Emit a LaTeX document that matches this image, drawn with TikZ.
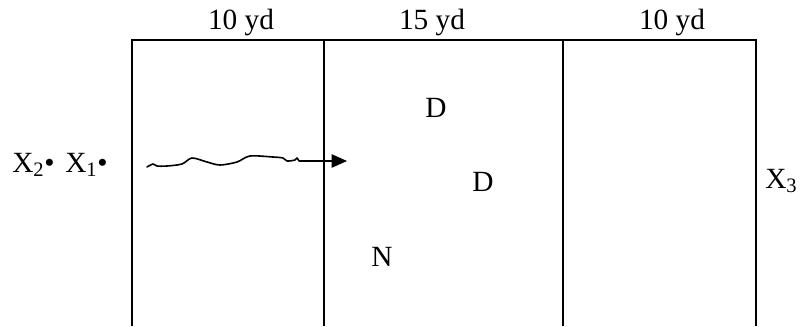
\documentclass[tikz,border=0pt]{standalone}
\usepackage{fontspec}
\setmainfont{Liberation Serif}
\usetikzlibrary{arrows.meta, positioning}

\begin{document}
\begin{tikzpicture}[
    x=0.75pt, y=-0.75pt,
    field/.style={draw, line width=1.2pt},
    lbl/.style={inner sep=0pt, font=\fontsize{22}{26}\selectfont},
    run/.style={draw, line width=1.2pt, line join=round, line cap=round},
    line/.style={draw, line width=1.1pt, -{Triangle[length=11.5pt, width=10pt]}}
]
\useasboundingbox (0,0) rectangle (800,326);

% field: three zones, open at the bottom
\coordinate (tl) at (132,40);
\coordinate (tr) at (756,40);
\path [field] (132,326) -- (tl) -- (tr) -- (756,326);
\path [field] (324,40) -- (324,326);
\path [field] (563,40) -- (563,326);

% widths
\node [lbl, anchor=base] (w1) at (241,29) {10 yd};
\node [lbl, anchor=base] (w2) at (432,29) {15 yd};
\node [lbl, anchor=base] (w3) at (672,29) {10 yd};

% players
\node [lbl, anchor=west] (x2) at (12,165) {X\textsubscript{2}\textbullet};
\node [lbl, anchor=west] (x1) at (65,165) {X\textsubscript{1}\textbullet};
\node [lbl, anchor=west] (x3) at (765,181) {X\textsubscript{3}};
\node [lbl] (d1) at (436,108) {D};
\node [lbl] (d2) at (483,182) {D};
\node [lbl] (n) at (382,257) {N};

% dribble then pass
\coordinate (wend) at (299,161);
\coordinate (tip) at (347,161);
\path [run] plot [smooth, tension=0.5] coordinates {(147,167) (153,164) (157,166) (167,166) (182,164)
    (192,158) (207,162) (220,165) (237,162) (250,156) (273,157) (283,158) (287,161) (295,160) (297,158) (wend)};
\path [line] (wend) -- (tip);

\end{tikzpicture}
\end{document}
